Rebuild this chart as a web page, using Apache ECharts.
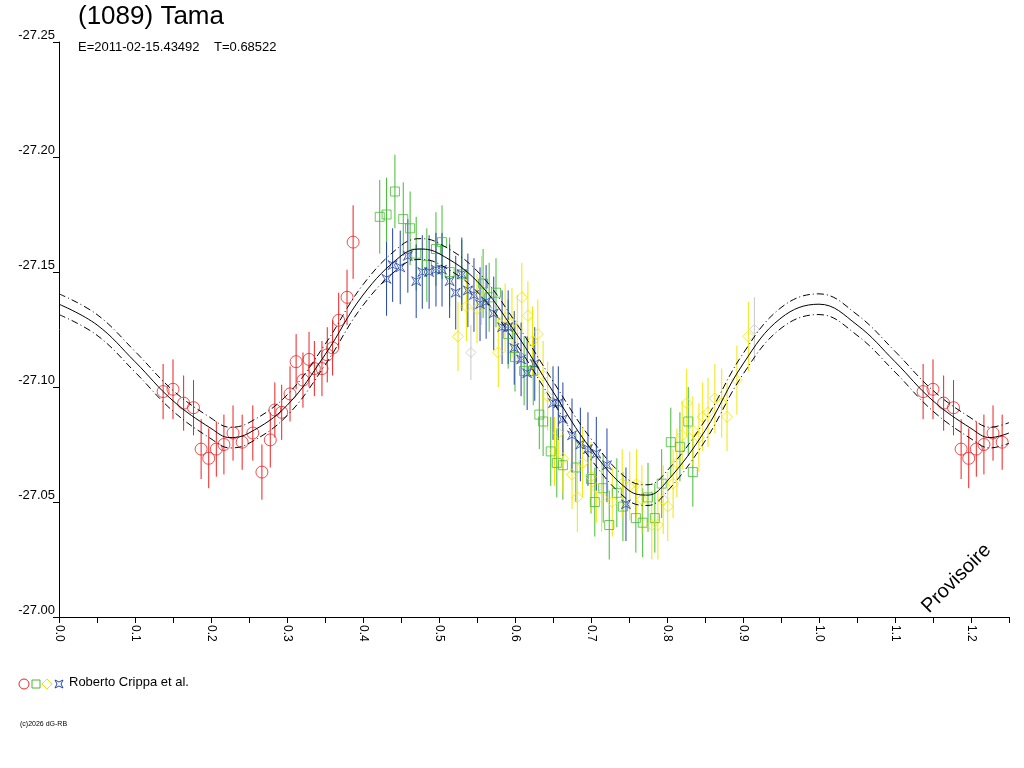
<!DOCTYPE html>
<html>
<head>
<meta charset="utf-8">
<script src="https://cdn.jsdelivr.net/npm/echarts@6/dist/echarts.min.js"></script>
<style>html,body{margin:0;padding:0;background:#fff}#chart{width:1024px;height:768px}</style>
</head>
<body>
<div id="chart"></div>
<script>
// phase, magnitude, error
var red = [
  [0.137,-27.098,0.012],[0.150,-27.099,0.013],[0.164,-27.093,0.012],[0.177,-27.091,0.012],
  [0.187,-27.073,0.013],[0.197,-27.069,0.013],[0.207,-27.073,0.012],[0.217,-27.075,0.013],
  [0.229,-27.080,0.012],[0.241,-27.076,0.012],[0.255,-27.080,0.012],[0.267,-27.063,0.012],
  [0.278,-27.077,0.012],[0.284,-27.090,0.012],[0.293,-27.089,0.012],[0.304,-27.097,0.012],
  [0.312,-27.111,0.012],[0.321,-27.103,0.012],[0.329,-27.112,0.012],[0.336,-27.108,0.012],
  [0.346,-27.108,0.012],[0.353,-27.114,0.012],[0.360,-27.117,0.012],[0.368,-27.129,0.012],
  [0.379,-27.139,0.012],[0.387,-27.163,0.016]
];
var green = [
  [0.422,-27.174,0.016],[0.431,-27.175,0.016],[0.442,-27.185,0.016],[0.453,-27.173,0.016],
  [0.462,-27.169,0.016],[0.470,-27.158,0.016],[0.484,-27.153,0.016],[0.496,-27.160,0.016],
  [0.504,-27.163,0.016],[0.514,-27.150,0.015],[0.530,-27.149,0.015],[0.558,-27.145,0.015],
  [0.566,-27.139,0.015],[0.575,-27.141,0.015],[0.591,-27.123,0.015],[0.600,-27.113,0.015],
  [0.612,-27.107,0.015],[0.624,-27.107,0.015],[0.632,-27.088,0.015],[0.637,-27.085,0.015],
  [0.647,-27.072,0.015],[0.655,-27.067,0.015],[0.663,-27.066,0.015],[0.680,-27.065,0.015],
  [0.700,-27.060,0.015],[0.705,-27.050,0.015],[0.716,-27.056,0.015],[0.724,-27.040,0.015],
  [0.734,-27.054,0.015],[0.742,-27.048,0.015],[0.759,-27.043,0.015],[0.768,-27.041,0.015],
  [0.775,-27.052,0.015],[0.784,-27.043,0.015],[0.793,-27.058,0.015],[0.805,-27.076,0.015],
  [0.817,-27.074,0.015],[0.828,-27.085,0.015],[0.834,-27.063,0.015]
];
var yellow = [
  [0.525,-27.122,0.015],[0.536,-27.135,0.015],[0.550,-27.134,0.015],[0.556,-27.142,0.015],
  [0.578,-27.115,0.015],[0.587,-27.130,0.015],[0.596,-27.128,0.015],[0.603,-27.125,0.015],
  [0.609,-27.139,0.015],[0.617,-27.131,0.015],[0.623,-27.120,0.015],[0.630,-27.123,0.015],
  [0.637,-27.105,0.015],[0.643,-27.096,0.015],[0.652,-27.072,0.015],[0.657,-27.080,0.015],
  [0.663,-27.069,0.015],[0.675,-27.062,0.015],[0.682,-27.052,0.015],[0.689,-27.067,0.015],
  [0.700,-27.061,0.015],[0.707,-27.056,0.015],[0.714,-27.052,0.015],[0.728,-27.050,0.015],
  [0.741,-27.058,0.015],[0.751,-27.057,0.015],[0.760,-27.058,0.015],[0.767,-27.051,0.015],
  [0.780,-27.040,0.015],[0.788,-27.040,0.015],[0.795,-27.051,0.015],[0.801,-27.048,0.015],
  [0.808,-27.058,0.015],[0.813,-27.067,0.015],[0.820,-27.079,0.015],[0.826,-27.093,0.015],
  [0.834,-27.081,0.015],[0.842,-27.078,0.015],[0.847,-27.087,0.015],[0.854,-27.089,0.015],
  [0.863,-27.095,0.015],[0.872,-27.093,0.015],[0.879,-27.087,0.015],[0.892,-27.103,0.015],
  [0.907,-27.122,0.015]
];
var blue = [
  [0.431,-27.147,0.016],[0.439,-27.153,0.016],[0.449,-27.152,0.016],[0.459,-27.157,0.016],
  [0.470,-27.146,0.016],[0.478,-27.150,0.016],[0.487,-27.150,0.016],[0.496,-27.151,0.016],
  [0.504,-27.151,0.016],[0.514,-27.146,0.016],[0.522,-27.141,0.016],[0.530,-27.149,0.016],
  [0.538,-27.142,0.016],[0.546,-27.140,0.016],[0.554,-27.136,0.016],[0.562,-27.137,0.016],
  [0.572,-27.132,0.016],[0.583,-27.126,0.016],[0.591,-27.126,0.016],[0.599,-27.117,0.016],
  [0.608,-27.112,0.016],[0.616,-27.106,0.016],[0.626,-27.110,0.016],[0.650,-27.093,0.016],
  [0.657,-27.093,0.016],[0.663,-27.086,0.016],[0.675,-27.079,0.016],[0.686,-27.075,0.016],
  [0.696,-27.073,0.016],[0.707,-27.071,0.016],[0.721,-27.066,0.016],[0.746,-27.049,0.016]
];
var grey = [
  [0.542,-27.115,0.012],[0.915,-27.125,0.014]
];
// fitted curve and its limits
var curvePhase = [0,0.05,0.1,0.15,0.2,0.225,0.25,0.3,0.35,0.4,0.45,0.475,0.5,0.55,0.6,0.65,0.7,0.75,0.775,0.8,0.85,0.9,0.95,1.0,1.05,1.1,1.15,1.2,1.225,1.25];
var curveMid = [-27.136,-27.127,-27.111,-27.094,-27.082,-27.078,-27.080,-27.092,-27.114,-27.140,-27.157,-27.160,-27.158,-27.146,-27.124,-27.098,-27.073,-27.055,-27.053,-27.059,-27.081,-27.110,-27.130,-27.136,-27.127,-27.111,-27.094,-27.082,-27.078,-27.080];
var curveHigh = [-27.1405,-27.1315,-27.1155,-27.0985,-27.0865,-27.0825,-27.0845,-27.0965,-27.1185,-27.1445,-27.1615,-27.1645,-27.1625,-27.1505,-27.1285,-27.1025,-27.0775,-27.0595,-27.0575,-27.0635,-27.0855,-27.1145,-27.1345,-27.1405,-27.1315,-27.1155,-27.0985,-27.0865,-27.0825,-27.0845];
var curveLow = [-27.1315,-27.1225,-27.1065,-27.0895,-27.0775,-27.0735,-27.0755,-27.0875,-27.1095,-27.1355,-27.1525,-27.1555,-27.1535,-27.1415,-27.1195,-27.0935,-27.0685,-27.0505,-27.0485,-27.0545,-27.0765,-27.1055,-27.1255,-27.1315,-27.1225,-27.1065,-27.0895,-27.0775,-27.0735,-27.0755];
var xTicks = ['0.0','0.1','0.2','0.3','0.4','0.5','0.6','0.7','0.8','0.9','1.0','1.1','1.2'];

function fold(arr) {
  var out = arr.slice();
  arr.forEach(function(p){ if (p[0] < 0.25) out.push([p[0] + 1, p[1], p[2]]); });
  return out;
}
function pair(xs, ys) { return xs.map(function(x, i){ return [x, ys[i]]; }); }

var starPath = 'path://M0,0 L5,3 L10,0 L7,5 L10,10 L5,7 L0,10 L3,5 Z';

function errSeries(data, color) {
  return {
    type: 'custom', silent: true, z: 2,
    data: data,
    renderItem: function(params, api) {
      var a = api.coord([api.value(0), api.value(1) - api.value(2)]);
      var b = api.coord([api.value(0), api.value(1) + api.value(2)]);
      return { type: 'line', shape: {x1: a[0], y1: a[1], x2: b[0], y2: b[1]}, style: {stroke: color, lineWidth: 1} };
    }
  };
}
function symSeries(data, color, symbol, size) {
  return {
    type: 'scatter', z: 3, symbol: symbol, symbolSize: size, data: data,
    itemStyle: {color: 'rgba(255,255,255,0)', borderColor: color, borderWidth: 1}
  };
}
function curve(data, dash) {
  return {
    type: 'line', data: data, smooth: 0.4, showSymbol: false, z: 4, silent: true,
    lineStyle: {color: '#000', width: 1, type: dash}
  };
}

var sets = [
  [grey, '#c8c8c8', 'diamond', 10],
  [green, '#44bb33', 'rect', 9],
  [yellow, '#f2e600', 'diamond', 11],
  [blue, '#2244aa', starPath, 9],
  [fold(red), '#ee2222', 'circle', 12]
];
var series = [];
sets.forEach(function(s){ series.push(errSeries(s[0], s[1])); });
sets.forEach(function(s){ series.push(symSeries(s[0], s[1], s[2], s[3])); });
series.push(curve(pair(curvePhase, curveMid), 'solid'));
series.push(curve(pair(curvePhase, curveHigh), [7, 3, 1, 3]));
series.push(curve(pair(curvePhase, curveLow), [7, 3, 1, 3]));

var chart = echarts.init(document.getElementById('chart'));
chart.setOption({
  animation: false,
  backgroundColor: '#fff',
  textStyle: {fontFamily: 'Liberation Sans, Arial, sans-serif'},
  grid: {left: 59, right: 15, top: 42, bottom: 151},
  xAxis: {
    type: 'value', min: 0, max: 1.25, interval: 0.1,
    axisLine: {onZero: false, lineStyle: {color: '#000'}},
    axisTick: {inside: false, length: 6, lineStyle: {color: '#000'}},
    minorTick: {show: true, splitNumber: 2, length: 6, lineStyle: {color: '#000'}},
    splitLine: {show: false},
    axisLabel: {rotate: -90, color: '#000', fontSize: 12, margin: 8,
      formatter: function(v){ var s = v.toFixed(1); return xTicks.indexOf(s) >= 0 ? s : ''; }}
  },
  yAxis: {
    type: 'value', min: -27.25, max: -27.0, interval: 0.05, inverse: true,
    axisLine: {show: true, lineStyle: {color: '#000'}},
    axisTick: {show: true, length: 6, lineStyle: {color: '#000'}},
    splitLine: {show: false},
    axisLabel: {color: '#000', fontSize: 13, margin: 4, verticalAlign: 'bottom',
      formatter: function(v){ return v.toFixed(2); }}
  },
  graphic: [
    {type: 'text', left: 78, top: 4, style: {text: '(1089) Tama', fontSize: 26, fill: '#000', fontFamily: 'Liberation Sans, Arial'}},
    {type: 'text', left: 78, top: 41, style: {text: 'E=2011-02-15.43492    T=0.68522', fontSize: 13, fill: '#000', fontFamily: 'Liberation Sans, Arial'}},
    {type: 'text', left: 918, top: 540, rotation: Math.PI / 4, originX: 0, originY: 0,
      style: {text: 'Provisoire', fontSize: 20, fill: '#000', fontFamily: 'Liberation Sans, Arial', x: 0, y: 0}},
    {type: 'circle', shape: {cx: 24, cy: 684, r: 5}, style: {fill: 'none', stroke: '#ee2222'}},
    {type: 'rect', shape: {x: 32, y: 680, width: 8, height: 8}, style: {fill: 'none', stroke: '#44bb33'}},
    {type: 'polygon', shape: {points: [[47,679],[52,684],[47,689],[42,684]]}, style: {fill: 'none', stroke: '#f2e600'}},
    {type: 'polygon', shape: {points: [[55,680],[59,682],[63,680],[61,684],[63,688],[59,686],[55,688],[57,684]]}, style: {fill: 'none', stroke: '#2244aa'}},
    {type: 'text', left: 69, top: 676, style: {text: 'Roberto Crippa et al.', fontSize: 13, fill: '#000', fontFamily: 'Liberation Sans, Arial'}},
    {type: 'text', left: 20, top: 721, style: {text: '(c)2026 dG-RB', fontSize: 7, fill: '#000'}}
  ],
  series: series
});
</script>
</body>
</html>
